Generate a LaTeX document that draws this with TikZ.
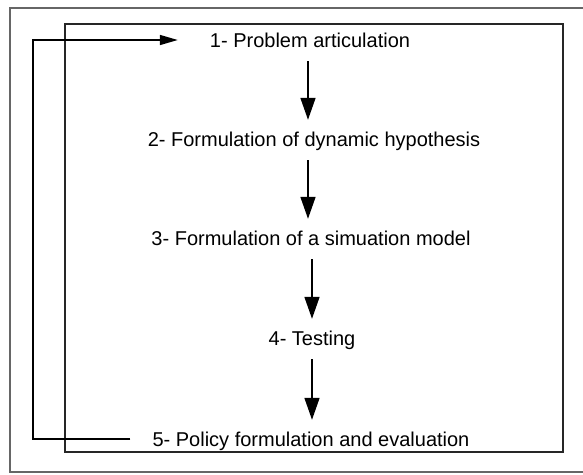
\documentclass[tikz,border=0pt]{standalone}
\usepackage{fontspec}
\setmainfont{Liberation Sans}
\usetikzlibrary{arrows.meta}
\tikzset{
  stage/.style={font=\fontsize{20}{24}\selectfont, inner sep=0pt, text height=14pt, text depth=0pt},
  flow/.style={line width=1.6pt, -{Triangle[length=22pt,width=15pt]}, shorten <=14pt, shorten >=12pt},
  frame/.style={line width=1.6pt, black!85}
}
\begin{document}
\begin{tikzpicture}[x=1pt,y=-1pt]
\useasboundingbox (0,0) rectangle (583,474);
\clip (0,0) rectangle (583,474);
\draw[frame, black!60] (10,8) rectangle (600,472);
\draw[frame] (65,24) rectangle (563,452);
\node[stage] (p1) at (310,40) {1- Problem articulation};
\node[stage] (p2) at (314,139) {2- Formulation of dynamic hypothesis};
\node[stage] (p3) at (311,238) {3- Formulation of a simuation model};
\node[stage] (p4) at (312,338) {4- Testing};
\node[stage] (p5) at (311,439) {5- Policy formulation and evaluation};
\draw[flow] ([xshift=-2pt]p1.south) -- ([xshift=-6pt]p2.north);
\draw[flow] ([xshift=-6pt]p2.south) -- ([xshift=-3pt]p3.north);
\draw[flow] ([xshift=1pt]p3.south) -- (p4.north);
\draw[flow] (p4.south) -- ([xshift=1pt]p5.north);
% feedback loop
\coordinate (loop) at (33,0);
\draw[line width=1.6pt, -{Triangle[length=18pt,width=10pt]}, shorten <=22pt, shorten >=32pt]
  (p5.west) -- (p5.west -| loop) |- (p1.west);
\end{tikzpicture}
\end{document}
